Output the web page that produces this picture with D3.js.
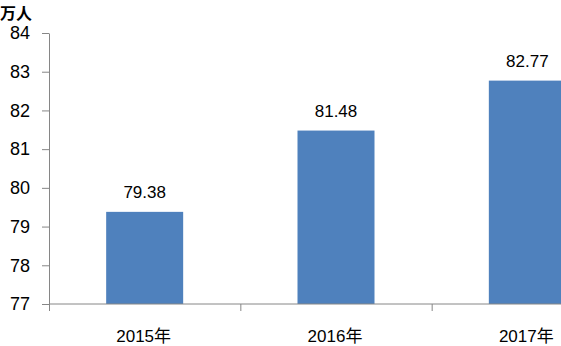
<!DOCTYPE html>
<html>
<head>
<meta charset="utf-8">
<script src="https://cdn.jsdelivr.net/npm/d3@7"></script>
<style>
  body { margin: 0; background: #fff; }
  svg { display: block; }
</style>
</head>
<body>
<svg id="chart" width="561" height="346"></svg>
<script>
const categories = ['2015年', '2016年', '2017年'];
const values = [79.38, 81.48, 82.77];
const yTicks = [77, 78, 79, 80, 81, 82, 83, 84];
const unitLabel = '万人';

const svg = d3.select('#chart');
const axisColor = '#868686';

// plot area runs past the right edge, like the original crop
const x = d3.scaleBand().domain(categories).range([49, 623]).paddingInner(0).paddingOuter(0);
const y = d3.scaleLinear().domain([77, 84]).range([304, 33]);
const barW = 77;

// y axis
const yAxis = svg.append('g')
  .attr('transform', 'translate(49,0)')
  .call(d3.axisLeft(y).tickValues(yTicks).tickSize(7).tickSizeOuter(0).tickFormat(d3.format('d')));
yAxis.select('.domain').attr('stroke', axisColor);
yAxis.selectAll('.tick line').attr('stroke', axisColor);
yAxis.selectAll('.tick text')
  .attr('x', -19)
  .attr('fill', '#000')
  .style('font-family', 'Liberation Sans, Arial, sans-serif')
  .style('font-size', '18px');

// bars
svg.append('g').selectAll('rect')
  .data(values)
  .enter()
  .append('rect')
  .attr('x', (d, i) => x(categories[i]) + x.bandwidth() / 2 - barW / 2)
  .attr('y', d => y(d))
  .attr('width', barW)
  .attr('height', d => y(77) - y(d))
  .attr('fill', '#4F81BD');

// value labels
svg.append('g').selectAll('text')
  .data(values)
  .enter()
  .append('text')
  .attr('x', (d, i) => x(categories[i]) + x.bandwidth() / 2)
  .attr('y', d => y(d) - 14)
  .attr('text-anchor', 'middle')
  .style('font-family', 'Liberation Sans, Arial, sans-serif')
  .style('font-size', '17px')
  .text(d => d.toFixed(2));

// x axis
const xAxis = svg.append('g')
  .attr('transform', 'translate(0,304)');
xAxis.append('line')
  .attr('x1', 49).attr('x2', 623)
  .attr('stroke', axisColor);
xAxis.selectAll('line.tk')
  .data(categories.concat(['end']))
  .enter()
  .append('line')
  .attr('class', 'tk')
  .attr('x1', (d, i) => 49.5 + i * x.bandwidth())
  .attr('x2', (d, i) => 49.5 + i * x.bandwidth())
  .attr('y1', 0).attr('y2', 7)
  .attr('stroke', axisColor);
xAxis.selectAll('text')
  .data(categories)
  .enter()
  .append('text')
  .attr('x', d => x(d) + x.bandwidth() / 2 - 1)
  .attr('y', 38)
  .attr('text-anchor', 'middle')
  .style('font-family', 'Liberation Sans, Noto Sans CJK SC, sans-serif')
  .style('font-size', '17px')
  .text(d => d);

// unit label
svg.append('text')
  .attr('x', 0)
  .attr('y', 19)
  .style('font-family', 'Noto Sans CJK SC, sans-serif')
  .style('font-weight', 'bold')
  .style('font-size', '16px')
  .text(unitLabel);
</script>
</body>
</html>
